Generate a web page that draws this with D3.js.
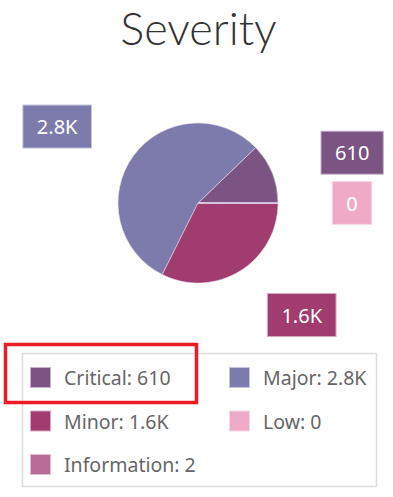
<!DOCTYPE html>
<html>
<head>
<meta charset="utf-8">
<script src="https://cdn.jsdelivr.net/npm/d3@7"></script>
<style>
  body { margin: 0; background: #fff; }
  svg { display: block; font-family: "Noto Sans", "Open Sans", sans-serif; }
</style>
</head>
<body>
<svg id="chart" width="393" height="497"></svg>
<script>
// Severity counts
const categories = ["Critical", "Major", "Minor", "Low", "Information"];
const counts = [610, 2780, 1620, 0, 2];
const valueLabels = ["610", "2.8K", "1.6K", "0", "2"];
const colors = ["#7b5483", "#7d7bab", "#a03c6f", "#eeaac6", "#b86d98"];
const borderColors = ["#c7b3cb", "#c5c4dc", "#d9a9c1", "#f7d9e5", "#e0bdd1"];

const width = 393, height = 497;
const cx = 198, cy = 203, radius = 80;

const svg = d3.select("#chart");

// Title
svg.append("text")
  .attr("x", width / 2 + 2)
  .attr("y", 44.5)
  .attr("text-anchor", "middle")
  .style("font-family", "Lato, 'Noto Sans', sans-serif")
  .style("font-size", "45px")
  .style("font-weight", 300)
  .style("fill", "#333")
  .text("Severity");

const data = categories.map((c, i) => ({ name: c, value: counts[i], label: valueLabels[i], color: colors[i], border: borderColors[i] }));

// counterclockwise from 3 o'clock
const pie = d3.pie()
  .sort(null)
  .value((d) => d.value)
  .startAngle(Math.PI / 2)
  .endAngle(Math.PI / 2 - 2 * Math.PI);

const arcs = pie(data);
const arc = d3.arc().innerRadius(0).outerRadius(radius);

const g = svg.append("g").attr("transform", `translate(${cx},${cy})`);

g.selectAll("path")
  .data(arcs)
  .enter().append("path")
  .attr("d", arc)
  .style("fill", (d) => d.data.color)
  .style("stroke", "#e8d8ee")
  .style("stroke-width", 0.6);

// Data labels outside the pie; small angle tweaks keep them apart
const labelNudge = { Critical: -4, Major: 8, Minor: 11, Low: 0 };
const labelRadius = { Critical: 162, Major: 160, Minor: 153, Low: 154 };
const shown = arcs.filter((d) => d.data.name in labelNudge);

const labels = g.selectAll("g.label")
  .data(shown)
  .enter().append("g")
  .attr("class", "label")
  .attr("transform", (d) => {
    // d3 angle is clockwise from 12 o'clock
    const mid = (d.startAngle + d.endAngle) / 2 - labelNudge[d.data.name] * Math.PI / 180;
    const r = labelRadius[d.data.name];
    return `translate(${r * Math.sin(mid)},${-r * Math.cos(mid)})`;
  });

labels.append("text")
  .attr("text-anchor", "middle")
  .attr("dy", "0.36em")
  .style("font-size", "20px")
  .style("fill", "#fff")
  .text((d) => d.data.label);

labels.each(function(d) {
  const grp = d3.select(this);
  const w = grp.select("text").node().getComputedTextLength() + 28;
  grp.insert("rect", "text")
    .attr("x", -w / 2)
    .attr("y", -22)
    .attr("width", w)
    .attr("height", 43)
    .style("fill", d.data.color)
    .style("stroke", d.data.border)
    .style("stroke-width", 1);
});

// Legend
const legend = svg.append("g");
legend.append("rect")
  .attr("x", 22.5).attr("y", 353.5)
  .attr("width", 354).attr("height", 133)
  .style("fill", "#fff")
  .style("stroke", "#dcdcdc")
  .style("stroke-width", 1.5);

const colX = d3.scaleOrdinal().domain([0, 1]).range([30, 229]);
const rowY = d3.scaleLinear().domain([0, 1]).range([367, 410.5]);

const items = legend.selectAll("g.item")
  .data(data)
  .enter().append("g")
  .attr("class", "item")
  .attr("transform", (d, i) => `translate(${colX(i % 2)},${rowY(Math.floor(i / 2))})`);

items.append("rect")
  .attr("x", 0.5).attr("y", 0.5)
  .attr("width", 20).attr("height", 20)
  .style("fill", (d) => d.color)
  .style("stroke", (d) => d.border);

items.append("text")
  .attr("x", 34)
  .attr("y", 18)
  .style("font-size", "19.5px")
  .style("fill", "#666")
  .text((d) => `${d.name}: ${d.label}`);

// Highlight box around the first legend entry
svg.append("rect")
  .attr("x", 5.5).attr("y", 344.5)
  .attr("width", 191).attr("height", 58)
  .style("fill", "none")
  .style("stroke", "#ec1c24")
  .style("stroke-width", 3.5);
</script>
</body>
</html>
